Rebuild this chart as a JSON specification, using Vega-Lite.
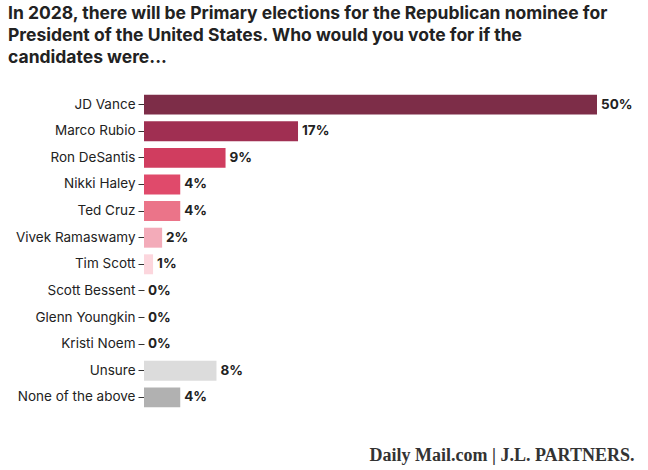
{
  "$schema": "https://vega.github.io/schema/vega-lite/v6.json",
  "width": 453,
  "height": 318,
  "padding": {"left": 8, "top": 4, "right": 10, "bottom": 2},
  "background": "white",
  "title": {
    "text": ["In 2028, there will be Primary elections for the Republican nominee for", "President of the United States. Who would you vote for if the", "candidates were..."],
    "anchor": "start",
    "frame": "group",
    "font": "Inter",
    "fontSize": 17.5,
    "fontWeight": "bold",
    "color": "#222",
    "lineHeight": 22,
    "offset": 26,
    "dx": -136
  },
  "data": {
    "values": [
      {"name": "JD Vance", "pct": 50, "color": "#7d2d48"},
      {"name": "Marco Rubio", "pct": 17, "color": "#a02f52"},
      {"name": "Ron DeSantis", "pct": 9, "color": "#d03d5f"},
      {"name": "Nikki Haley", "pct": 4, "color": "#e04a6b"},
      {"name": "Ted Cruz", "pct": 4, "color": "#eb7489"},
      {"name": "Vivek Ramaswamy", "pct": 2, "color": "#f3abb9"},
      {"name": "Tim Scott", "pct": 1, "color": "#fcd6dd"},
      {"name": "Scott Bessent", "pct": 0, "color": "#fcd6dd"},
      {"name": "Glenn Youngkin", "pct": 0, "color": "#fcd6dd"},
      {"name": "Kristi Noem", "pct": 0, "color": "#fcd6dd"},
      {"name": "Unsure", "pct": 8, "color": "#dcdcdc"},
      {"name": "None of the above", "pct": 4, "color": "#b1b1b1"}
    ]
  },
  "transform": [{"calculate": "datum.pct + '%'", "as": "label"}],
  "encoding": {
    "y": {
      "field": "name", "type": "nominal", "sort": null,
      "scale": {"paddingInner": 0.25, "paddingOuter": 0.1},
      "axis": {"title": null, "domain": false, "ticks": true, "tickColor": "#333", "tickSize": 6, "labelFont": "Inter", "labelFontSize": 13.5, "labelColor": "#222", "labelPadding": 3}
    },
    "x": {
      "field": "pct", "type": "quantitative",
      "scale": {"domain": [0, 50]},
      "axis": {"title": "Daily Mail.com | J.L. PARTNERS.", "titleX": 490, "titleAlign": "right", "titleAnchor": "end", "titleFont": "Liberation Serif", "titleFontSize": 18, "titleFontWeight": "bold", "titleColor": "#333", "titlePadding": 36, "labels": false, "ticks": false, "domain": false, "grid": false}
    }
  },
  "layer": [
    {"mark": {"type": "bar"}, "encoding": {"color": {"field": "color", "type": "nominal", "scale": null}}},
    {"mark": {"type": "text", "align": "left", "dx": 4, "font": "Inter", "fontSize": 13.5, "fontWeight": "bold", "color": "#222"},
     "encoding": {"text": {"field": "label"}}}
  ],
  "config": {"view": {"stroke": null}}
}
